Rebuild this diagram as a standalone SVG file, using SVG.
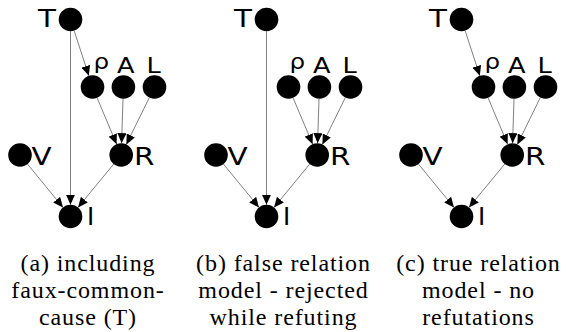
<svg xmlns="http://www.w3.org/2000/svg" width="570" height="332" viewBox="0 0 570 332">
<style>
.n{fill:#000}
.e{stroke:#808080;stroke-width:1;fill:none;marker-end:url(#ah)}
.lb{font-family:'DejaVu Sans',sans-serif;font-size:24.5px;fill:#000}
.ls{font-family:'DejaVu Sans',sans-serif;font-size:20.5px;fill:#000}
.cap{font-family:'Liberation Serif','DejaVu Serif',serif;font-size:24px;letter-spacing:0.9px;fill:#000;text-anchor:middle}
</style>
<defs>
<marker id="ah" markerUnits="userSpaceOnUse" markerWidth="10" markerHeight="9" refX="10" refY="4.5" orient="auto">
<path d="M0,0 L10,4.5 L0,9 z" fill="#000"/>
</marker>
</defs>
<rect width="570" height="332" fill="#fff"/>

<!-- Panel a -->
<g id="panel-a">
<g id="a-edges">
<line class="e" x1="70.5" y1="31.3" x2="70.5" y2="204.7"/>
<line class="e" x1="74.16" y1="30.72" x2="88.84" y2="75.78"/>
<line class="e" x1="97.09" y1="97.87" x2="116.61" y2="144.13"/>
<line class="e" x1="123.02" y1="98.79" x2="121.58" y2="143.21"/>
<line class="e" x1="149.31" y1="97.6" x2="126.39" y2="144.4"/>
<line class="e" x1="27.49" y1="164.12" x2="63.01" y2="207.38"/>
<line class="e" x1="113.69" y1="164.1" x2="78.01" y2="207.4"/>
</g>
<g id="a-T"><circle class="n" cx="70.5" cy="19.5" r="11.8"/><text class="lb" transform="translate(38,27) scale(1.2,1)">T</text></g>
<g id="a-rho"><circle class="n" cx="92.5" cy="87" r="11.8"/><text class="ls" transform="translate(93.5,69) scale(1.2,1)">ρ</text></g>
<g id="a-A"><circle class="n" cx="123.4" cy="87" r="11.8"/><text class="ls" transform="translate(117,73) scale(1.25,1)">A</text></g>
<g id="a-L"><circle class="n" cx="154.5" cy="87" r="11.8"/><text class="ls" transform="translate(146.5,73) scale(1.25,1)">L</text></g>
<g id="a-V"><circle class="n" cx="20" cy="155" r="11.8"/><text class="lb" transform="translate(31.5,165) scale(1.2,1)">V</text></g>
<g id="a-R"><circle class="n" cx="121.2" cy="155" r="11.8"/><text class="lb" transform="translate(134,165) scale(1.2,1)">R</text></g>
<g id="a-I"><circle class="n" cx="70.5" cy="216.5" r="11.8"/><text class="lb" transform="translate(87,225)">I</text></g>
<text class="cap" x="88" y="271">(a) including</text>
<text class="cap" x="88" y="298">faux-common-</text>
<text class="cap" x="88" y="325">cause (T)</text>
</g>

<!-- Panel b -->
<g id="panel-b" transform="translate(196,0)">
<g id="b-edges">
<line class="e" x1="70.5" y1="31.3" x2="70.5" y2="204.7"/>
<line class="e" x1="97.09" y1="97.87" x2="116.61" y2="144.13"/>
<line class="e" x1="123.02" y1="98.79" x2="121.58" y2="143.21"/>
<line class="e" x1="149.31" y1="97.6" x2="126.39" y2="144.4"/>
<line class="e" x1="27.49" y1="164.12" x2="63.01" y2="207.38"/>
<line class="e" x1="113.69" y1="164.1" x2="78.01" y2="207.4"/>
</g>
<g id="b-T"><circle class="n" cx="70.5" cy="19.5" r="11.8"/><text class="lb" transform="translate(38,27) scale(1.2,1)">T</text></g>
<g id="b-rho"><circle class="n" cx="92.5" cy="87" r="11.8"/><text class="ls" transform="translate(93.5,69) scale(1.2,1)">ρ</text></g>
<g id="b-A"><circle class="n" cx="123.4" cy="87" r="11.8"/><text class="ls" transform="translate(117,73) scale(1.25,1)">A</text></g>
<g id="b-L"><circle class="n" cx="154.5" cy="87" r="11.8"/><text class="ls" transform="translate(146.5,73) scale(1.25,1)">L</text></g>
<g id="b-V"><circle class="n" cx="20" cy="155" r="11.8"/><text class="lb" transform="translate(31.5,165) scale(1.2,1)">V</text></g>
<g id="b-R"><circle class="n" cx="121.2" cy="155" r="11.8"/><text class="lb" transform="translate(134,165) scale(1.2,1)">R</text></g>
<g id="b-I"><circle class="n" cx="70.5" cy="216.5" r="11.8"/><text class="lb" transform="translate(87,225)">I</text></g>
<text class="cap" x="87.5" y="271">(b) false relation</text>
<text class="cap" x="87.5" y="298">model - rejected</text>
<text class="cap" x="87.5" y="325">while refuting</text>
</g>

<!-- Panel c -->
<g id="panel-c" transform="translate(391,0)">
<g id="c-edges">
<line class="e" x1="74.16" y1="30.72" x2="88.84" y2="75.78"/>
<line class="e" x1="97.09" y1="97.87" x2="116.61" y2="144.13"/>
<line class="e" x1="123.02" y1="98.79" x2="121.58" y2="143.21"/>
<line class="e" x1="149.31" y1="97.6" x2="126.39" y2="144.4"/>
<line class="e" x1="27.49" y1="164.12" x2="63.01" y2="207.38"/>
<line class="e" x1="113.69" y1="164.1" x2="78.01" y2="207.4"/>
</g>
<g id="c-T"><circle class="n" cx="70.5" cy="19.5" r="11.8"/><text class="lb" transform="translate(38,27) scale(1.2,1)">T</text></g>
<g id="c-rho"><circle class="n" cx="92.5" cy="87" r="11.8"/><text class="ls" transform="translate(93.5,69) scale(1.2,1)">ρ</text></g>
<g id="c-A"><circle class="n" cx="123.4" cy="87" r="11.8"/><text class="ls" transform="translate(117,73) scale(1.25,1)">A</text></g>
<g id="c-L"><circle class="n" cx="154.5" cy="87" r="11.8"/><text class="ls" transform="translate(146.5,73) scale(1.25,1)">L</text></g>
<g id="c-V"><circle class="n" cx="20" cy="155" r="11.8"/><text class="lb" transform="translate(31.5,165) scale(1.2,1)">V</text></g>
<g id="c-R"><circle class="n" cx="121.2" cy="155" r="11.8"/><text class="lb" transform="translate(134,165) scale(1.2,1)">R</text></g>
<g id="c-I"><circle class="n" cx="70.5" cy="216.5" r="11.8"/><text class="lb" transform="translate(87,225)">I</text></g>
<text class="cap" x="87.5" y="271">(c) true relation</text>
<text class="cap" x="87.5" y="298">model - no</text>
<text class="cap" x="87.5" y="325">refutations</text>
</g>
</svg>
